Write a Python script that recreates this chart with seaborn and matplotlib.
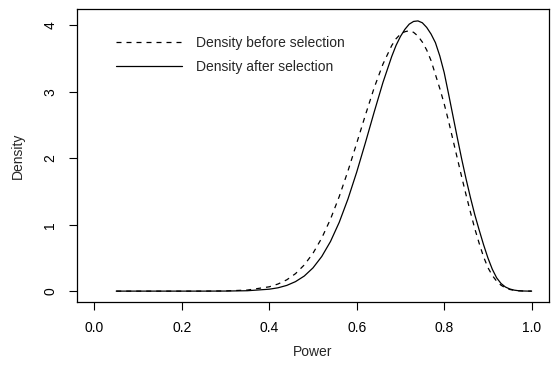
import numpy as np
import pandas as pd
import matplotlib
matplotlib.use("Agg")
import matplotlib.pyplot as plt
import seaborn as sns

# --- values ---
power = [0.05, 0.10, 0.15, 0.20, 0.25, 0.30, 0.35, 0.40, 0.42, 0.44, 0.46, 0.48,
         0.50, 0.52, 0.54, 0.56, 0.58, 0.60, 0.62, 0.64, 0.66, 0.68, 0.69,
         0.70, 0.71, 0.72, 0.73, 0.74, 0.75, 0.76, 0.77, 0.78, 0.79, 0.80,
         0.81, 0.82, 0.83, 0.84, 0.85, 0.86, 0.87, 0.88, 0.89, 0.90, 0.91,
         0.92, 0.93, 0.94, 0.95, 0.96, 0.97, 0.98, 0.99, 1.00]

density_before = [0.0, 0.0, 0.0, 0.0, 0.0005, 0.003, 0.016, 0.065, 0.107, 0.170,
                  0.263, 0.394, 0.570, 0.799, 1.084, 1.424, 1.810, 2.228, 2.654,
                  3.063, 3.418, 3.697, 3.800,
                  3.869, 3.905, 3.920, 3.896, 3.840, 3.750, 3.630, 3.470, 3.260,
                  3.050, 2.820, 2.560, 2.280, 2.000, 1.720, 1.450, 1.190, 0.940,
                  0.720, 0.518, 0.354, 0.236, 0.149, 0.089, 0.049, 0.025, 0.012,
                  0.005, 0.002, 0.0005, 0.0]

density_after = [0.0, 0.0, 0.0, 0.0, 0.0, 0.001, 0.006, 0.029, 0.050, 0.086,
                 0.143, 0.227, 0.350, 0.521, 0.747, 1.036, 1.388, 1.793, 2.238,
                 2.698, 3.142, 3.532, 3.700,
                 3.834, 3.940, 4.019, 4.060, 4.068, 4.040, 3.970, 3.870, 3.740,
                 3.540, 3.290, 2.970, 2.640, 2.310, 1.990, 1.690, 1.410, 1.150,
                 0.920, 0.700, 0.500, 0.330, 0.200, 0.115, 0.062, 0.032, 0.015,
                 0.006, 0.002, 0.0005, 0.0]

labels = ["Density before selection", "Density after selection"]
x_ticks = [0.0, 0.2, 0.4, 0.6, 0.8, 1.0]
y_ticks = [0, 1, 2, 3, 4]

df = pd.DataFrame({"power": power, "before": density_before, "after": density_after})

sns.set_style("ticks")
plt.rcParams["font.family"] = ["Liberation Sans", "DejaVu Sans"]
plt.rcParams["axes.edgecolor"] = "black"
plt.rcParams["xtick.color"] = "black"
plt.rcParams["ytick.color"] = "black"

fig = plt.figure(figsize=(5.53, 3.66), dpi=100)
ax = fig.add_axes([0.139, 0.175, 0.854, 0.800])

sns.lineplot(data=df, x="power", y="before", ax=ax, color="black", lw=0.9,
             ls=(0, (4, 4)), label=labels[0])
sns.lineplot(data=df, x="power", y="after", ax=ax, color="black", lw=0.9,
             label=labels[1])

ax.set_xlim(-0.04, 1.04)
ax.set_ylim(-0.163, 4.245)
ax.set_xticks(x_ticks)
ax.set_xticklabels([f"{t:.1f}" for t in x_ticks])
ax.set_yticks(y_ticks)
ax.set_yticklabels([str(t) for t in y_ticks])
for lab in ax.get_yticklabels():
    lab.set_rotation(90)
    lab.set_va("center")

ax.tick_params(axis="both", length=6, width=0.8, labelsize=10, pad=8)
for sp in ax.spines.values():
    sp.set_linewidth(0.9)
    sp.set_visible(True)

ax.set_xlabel("Power", fontsize=10, va="center")
ax.set_ylabel("Density", fontsize=10, va="center")
ax.xaxis.set_label_coords(0.5, -0.171)
ax.yaxis.set_label_coords(-0.125, 0.5)

ax.legend(loc="upper left", bbox_to_anchor=(0.0826, 0.908), frameon=False,
          borderpad=0, borderaxespad=0, fontsize=10, handlelength=4.75,
          handletextpad=1.05, labelspacing=0.73)

fig.savefig("out.png", dpi=100)
